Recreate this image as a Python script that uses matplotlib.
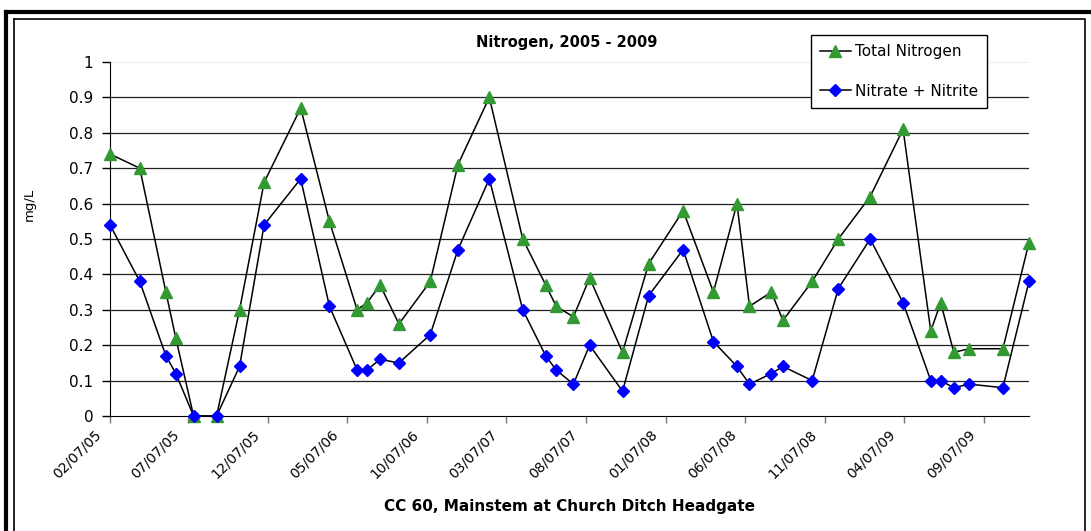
import matplotlib
matplotlib.use("Agg")
import matplotlib.pyplot as plt
import matplotlib.transforms as mtransforms
from matplotlib.lines import Line2D
import pandas as pd

# fechas de muestreo
sample_dates = ["2005-02-07", "2005-04-05", "2005-05-25", "2005-06-13", "2005-07-17",
                "2005-08-30", "2005-10-13", "2005-11-29", "2006-02-07", "2006-04-03",
                "2006-05-26", "2006-06-14", "2006-07-09", "2006-08-14", "2006-10-13",
                "2006-12-05", "2007-02-03", "2007-04-08", "2007-05-22", "2007-06-11",
                "2007-07-14", "2007-08-14", "2007-10-16", "2007-12-05", "2008-02-09",
                "2008-04-07", "2008-05-22", "2008-06-15", "2008-07-27", "2008-08-18",
                "2008-10-13", "2008-12-02", "2009-02-01", "2009-04-05", "2009-05-28",
                "2009-06-16", "2009-07-11", "2009-08-10", "2009-10-13", "2009-12-02"]

total_nitrogen = [0.74, 0.70, 0.35, 0.22, 0.00, 0.00, 0.30, 0.66, 0.87, 0.55,
                  0.30, 0.32, 0.37, 0.26, 0.38, 0.71, 0.90, 0.50, 0.37, 0.31,
                  0.28, 0.39, 0.18, 0.43, 0.58, 0.35, 0.60, 0.31, 0.35, 0.27,
                  0.38, 0.50, 0.62, 0.81, 0.24, 0.32, 0.18, 0.19, 0.19, 0.49]

nitrate_nitrite = [0.54, 0.38, 0.17, 0.12, 0.00, 0.00, 0.14, 0.54, 0.67, 0.31,
                   0.13, 0.13, 0.16, 0.15, 0.23, 0.47, 0.67, 0.30, 0.17, 0.13,
                   0.09, 0.20, 0.07, 0.34, 0.47, 0.21, 0.14, 0.09, 0.12, 0.14,
                   0.10, 0.36, 0.50, 0.32, 0.10, 0.10, 0.08, 0.09, 0.08, 0.38]

y_ticks = [0, 0.1, 0.2, 0.3, 0.4, 0.5, 0.6, 0.7, 0.8, 0.9, 1]

dates = pd.to_datetime(sample_dates)
# ticks cada 5 meses desde la primera fecha
x_ticks = pd.date_range(dates[0], periods=12, freq=pd.DateOffset(months=5))
x_labels = [d.strftime("%m/%d/%y") for d in x_ticks]

W, H = 1091, 531
fig = plt.figure(figsize=(W / 100, H / 100), dpi=100)
ax = fig.add_axes([110 / W, 1 - 416 / H, (1029 - 110) / W, (416 - 62) / H])

for yv in y_ticks[1:-1]:
    ax.axhline(yv, color="#222222", lw=0.9, zorder=1)
ax.axhline(1, color="#eeeeee", lw=0.8, zorder=1)

ax.plot(dates, total_nitrogen, color="black", lw=1.1, marker="^", ms=8,
        mfc="#339933", mec="#339933", label="Total Nitrogen", zorder=3, clip_on=False)
ax.plot(dates, nitrate_nitrite, color="black", lw=1.1, marker="D", ms=6.3,
        mfc="#0000ff", mec="#0000ff", label="Nitrate + Nitrite", zorder=4, clip_on=False)

ax.set_xlim(dates[0], dates[-1])
ax.set_ylim(0, 1)
ax.set_yticks(y_ticks)
ax.set_yticklabels([f"{v:g}" for v in y_ticks])
ax.set_xticks(x_ticks)
ax.set_xticklabels([])

# etiquetas de fecha giradas, ancladas un poco a la izquierda de cada tick
shift = mtransforms.ScaledTranslation(-16 / 100, -11 / 100, fig.dpi_scale_trans)
for d, lab in zip(x_ticks, x_labels):
    ax.text(d, 0, lab, transform=ax.get_xaxis_transform() + shift, rotation=45,
            ha="right", va="top", rotation_mode="anchor", fontsize=10)

for s in ["top", "right"]:
    ax.spines[s].set_visible(False)
ax.spines["left"].set_color("black")
ax.spines["bottom"].set_color("black")
ax.tick_params(axis="y", length=6, width=1, labelsize=11, pad=6)
ax.tick_params(axis="x", length=5, width=1, color="#777777")

fig.text(29 / W, 1 - 204 / H, "mg/L", rotation=90, ha="center", va="center", fontsize=9.5)
fig.text(567 / W, 1 - 42 / H, "Nitrogen, 2005 - 2009", ha="center", va="center",
         fontsize=10.5, fontweight="bold")
fig.text(570 / W, 1 - 506 / H, "CC 60, Mainstem at Church Ditch Headgate", ha="center",
         va="center", fontsize=11, fontweight="bold")

leg = fig.legend(loc="upper left", bbox_to_anchor=(811 / W, 1 - 35 / H), fontsize=11,
                 frameon=True, fancybox=False, edgecolor="black", framealpha=1,
                 handlelength=2.0, handletextpad=0.25, labelspacing=1.6, borderpad=0.6,
                 borderaxespad=0)
leg.get_frame().set_linewidth(1)

# bordes del grafico
def px_line(xs, ys, lw):
    fig.add_artist(Line2D([x / W for x in xs], [1 - y / H for y in ys], color="black",
                          lw=lw, transform=fig.transFigure))

px_line([6, 1091], [12, 12], 3)
px_line([6, 6], [12, 531], 3)
px_line([14, 1085, 1085], [19, 19, 531], 1.2)
px_line([14, 14], [19, 531], 1.2)

fig.savefig("out.png", dpi=100)
